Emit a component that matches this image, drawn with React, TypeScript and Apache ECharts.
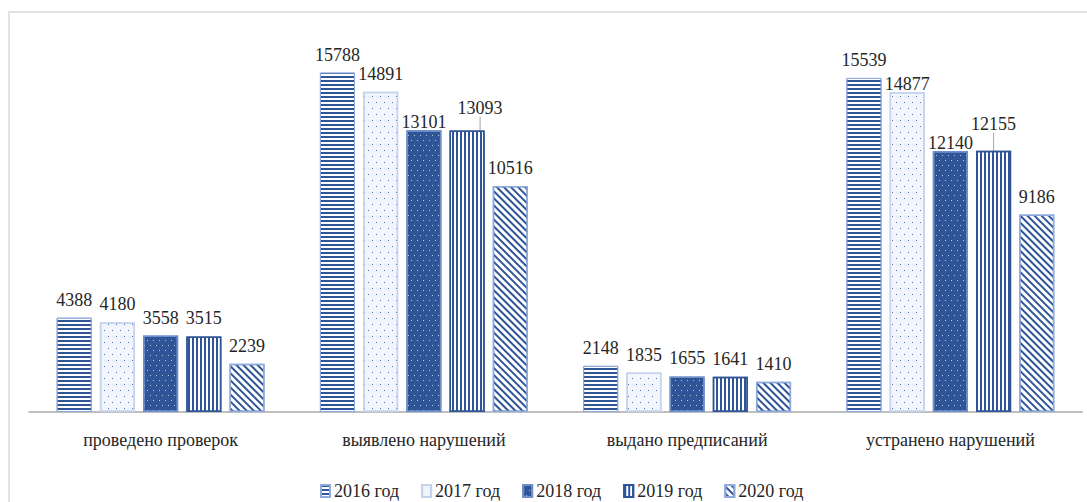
import React, { useEffect, useRef } from "react";
import * as echarts from "echarts";

const categories = [
  "проведено проверок",
  "выявлено нарушений",
  "выдано предписаний",
  "устранено нарушений",
];
const seriesNames = ["2016 год", "2017 год", "2018 год", "2019 год", "2020 год"];
const v2016 = [4388, 15788, 2148, 15539];
const v2017 = [4180, 14891, 1835, 14877];
const v2018 = [3558, 13101, 1655, 12140];
const v2019 = [3515, 13093, 1641, 12155];
const v2020 = [2239, 10516, 1410, 9186];

const DARK = "#2F5597";
const FONT = "serif";

export default function App() {
  const ref = useRef<HTMLDivElement>(null);
  useEffect(() => {
    if (!ref.current) return;
    const chart = echarts.init(ref.current, null, { renderer: "svg" });

    const baseLabel = {
      show: true,
      position: "top",
      distance: 9,
      fontFamily: FONT,
      fontSize: 18,
      color: "#262626",
    };

    const shiftDown = (arr: number[], idxs: number[]) =>
      arr.map((v, i) =>
        idxs.includes(i) ? { value: v, label: { offset: [0, 10] } } : v
      );

    const hStripes = {
      symbol: "rect",
      symbolSize: 1,
      symbolKeepAspect: false,
      color: DARK,
      dashArrayX: [[8, 0]],
      dashArrayY: [2, 2],
    };

    const guide = { show: true, lineStyle: { color: "#A6A6A6", width: 1 } };

    const option: any = {
      animation: false,
      backgroundColor: "#ffffff",
      textStyle: { fontFamily: FONT },
      graphic: [
        {
          type: "rect",
          shape: { x: 9, y: 12, width: 1200, height: 600 },
          style: { fill: "none", stroke: "#D9D9D9", lineWidth: 1.5 },
          silent: true,
        },
      ],
      grid: { left: 29, right: 5, top: 25, bottom: 90 },
      legend: {
        data: seriesNames,
        top: 477,
        left: 315,
        itemWidth: 9,
        itemHeight: 12,
        itemGap: 22,
        icon: "rect",
        textStyle: {
          fontFamily: FONT,
          fontSize: 18,
          color: "#262626",
          padding: [0, 0, 0, -1],
        },
      },
      xAxis: {
        type: "category",
        data: categories,
        axisLine: { lineStyle: { color: "#BFBFBF", width: 2 } },
        axisTick: { show: false },
        axisLabel: { fontFamily: FONT, fontSize: 18, color: "#262626", margin: 19 },
      },
      yAxis: {
        type: "value",
        min: 0,
        max: 18000,
        show: false,
        splitLine: { show: false },
      },
      series: [
        {
          name: seriesNames[0],
          type: "bar",
          barGap: "23%",
          barCategoryGap: "21%",
          data: v2016,
          label: baseLabel,
          itemStyle: {
            color: "#ffffff",
            borderColor: "#8FAADC",
            borderWidth: 1,
            decal: hStripes,
          },
        },
        {
          name: seriesNames[1],
          type: "bar",
          data: shiftDown(v2017, [3]),
          label: baseLabel,
          itemStyle: {
            color: "#F2F5FB",
            borderColor: "#C5D3EE",
            borderWidth: 1.5,
            decal: {
              symbol: "rect",
              symbolSize: 1,
              symbolKeepAspect: false,
              color: "#4472C4",
              dashArrayX: [[1, 7], [0, 4, 1, 3]],
              dashArrayY: [1, 5],
            },
          },
        },
        {
          name: seriesNames[2],
          type: "bar",
          data: shiftDown(v2018, [1, 3]),
          label: baseLabel,
          itemStyle: {
            color: DARK,
            borderColor: "#6F8FC9",
            borderWidth: 1.5,
            decal: {
              symbol: "rect",
              symbolSize: 1,
              symbolKeepAspect: false,
              color: "#B4C7E7",
              dashArrayX: [[1, 5], [0, 3, 1, 2]],
              dashArrayY: [1, 4],
            },
          },
        },
        {
          name: seriesNames[3],
          type: "bar",
          data: v2019.map((v, i) =>
            i === 0
              ? { value: v, label: { offset: [0, 10] } }
              : i === 1 || i === 3
              ? { value: v, labelLine: guide }
              : v
          ),
          label: baseLabel,
          labelLayout: (p: any) => {
            if (p.dataIndex === 1) return { dx: 13, dy: -5 };
            if (p.dataIndex === 3) return { dy: -9 };
            return undefined;
          },
          labelLine: { show: false },
          itemStyle: {
            color: "#ffffff",
            borderColor: DARK,
            borderWidth: 1.5,
            decal: {
              symbol: "rect",
              symbolSize: 1,
              symbolKeepAspect: false,
              color: DARK,
              dashArrayX: [[2, 2]],
              dashArrayY: [8, 0],
            },
          },
        },
        {
          name: seriesNames[4],
          type: "bar",
          data: v2020,
          label: baseLabel,
          itemStyle: {
            color: "#ffffff",
            borderColor: "#8FAADC",
            borderWidth: 1.5,
            decal: {
              symbol: "rect",
              symbolSize: 1,
              symbolKeepAspect: false,
              color: DARK,
              dashArrayX: [[8, 0]],
              dashArrayY: [2, 3],
              rotation: Math.PI / 4,
            },
          },
        },
      ],
    };
    chart.setOption(option);
    return () => chart.dispose();
  }, []);
  return (
    <div
      ref={ref}
      style={{ position: "absolute", left: 0, top: 0, width: 1087, height: 502 }}
    />
  );
}
